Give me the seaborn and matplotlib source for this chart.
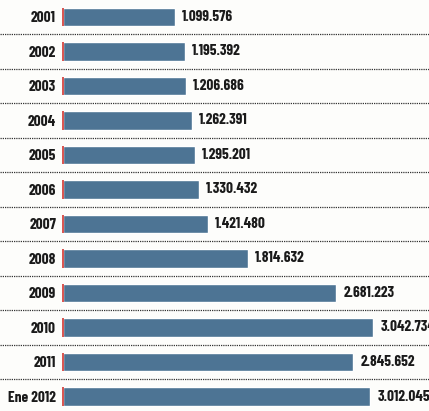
import pandas as pd
import numpy as np
import matplotlib.pyplot as plt
import seaborn as sns

years = ['2001', '2002', '2003', '2004', '2005', '2006', '2007', '2008',
         '2009', '2010', '2011', 'Ene 2012']
values = [1099576, 1195392, 1206686, 1262391, 1295201, 1330432, 1421480,
          1814632, 2681223, 3042734, 2845652, 3012045]
labels = ['1.099.576', '1.195.392', '1.206.686', '1.262.391', '1.295.201',
          '1.330.432', '1.421.480', '1.814.632', '2.681.223', '3.042.734',
          '2.845.652', '3.012.045']

df = pd.DataFrame({'year': years, 'value': values})

sns.set_style('white')
plt.rcParams['font.family'] = ['Barlow Condensed', 'DejaVu Sans']

W, H = 429, 411
x0 = 63          # pixel where the bars start
px_per_m = 102   # pixels per million

fig = plt.figure(figsize=(W / 100, H / 100), dpi=100)
fig.patch.set_facecolor('#fdfdfb')
ax = fig.add_axes([x0 / W, 0, 1 - x0 / W, 1])
ax.set_facecolor('#fdfdfb')

sns.barplot(data=df, x='value', y='year', orient='h', color='#4d7494',
            saturation=1, width=0.54, ax=ax)

# thin red edge at the start of each bar
for p in ax.patches:
    ax.plot([p.get_x(), p.get_x()], [p.get_y(), p.get_y() + p.get_height()],
            color='#d9534f', lw=1.4, solid_capstyle='butt', clip_on=False)

ax.bar_label(ax.containers[0], labels=labels, padding=5, fontsize=11,
             fontweight='bold', color='#1a1a1a')

# dotted separators between rows, full width
for i in range(len(years) - 1):
    ax.axhline(i + 0.5, xmin=-x0 / (W - x0), xmax=1, color='#333333', lw=0.9,
               ls=(0, (1, 0.8)), clip_on=False)

ax.set_xlim(0, (W - x0) / px_per_m * 1e6)
ax.set_ylim(11.42, -0.49)

ax.set_xlabel('')
ax.set_ylabel('')
ax.set_xticks([])
ax.tick_params(axis='y', length=0, pad=5)
for t in ax.get_yticklabels():
    t.set_fontsize(11)
    t.set_fontweight('bold')
    t.set_color('#1a1a1a')
sns.despine(left=True, bottom=True)

fig.savefig('out.png', dpi=100, facecolor=fig.get_facecolor())
